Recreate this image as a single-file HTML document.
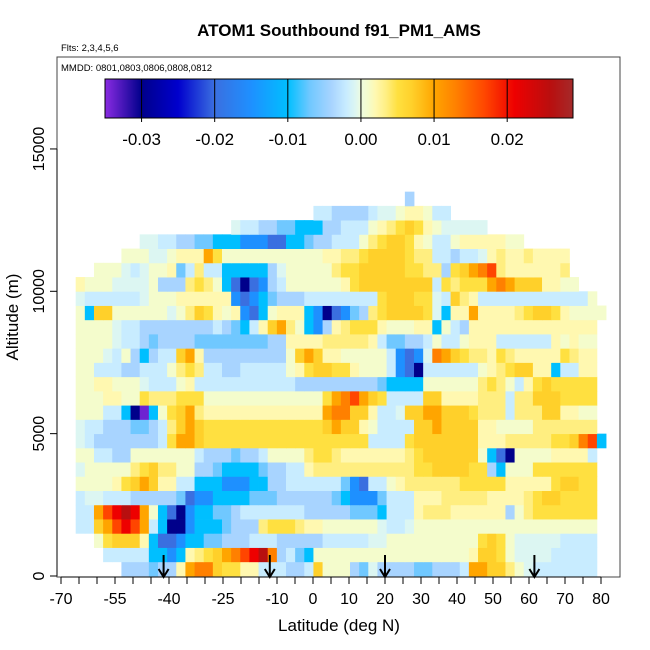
<!DOCTYPE html>
<html><head><meta charset="utf-8"><style>
body{margin:0;background:#fff;}
svg{display:block;font-family:"Liberation Sans",Arial,sans-serif;}
</style></head><body>
<svg id="chart" width="650" height="650" viewBox="0 0 650 650">
<text x="339" y="36" text-anchor="middle" font-size="17" font-weight="bold">ATOM1 Southbound f91_PM1_AMS</text>
<text x="61" y="51" font-size="9.5">Flts: 2,3,4,5,6</text>
<g id="cells"></g>
<g id="arrows"></g>
<rect x="57" y="57" width="563" height="520" fill="none" stroke="#444" stroke-width="1"/>
<text x="61" y="71" font-size="9.5">MMDD: 0801,0803,0806,0808,0812</text>
<g id="cbar"></g>
<g id="xaxis"></g>
<g id="yaxis"></g>
<text x="339" y="631" text-anchor="middle" font-size="17">Latitude (deg N)</text>
<text x="0" y="0" transform="translate(18,317) rotate(-90)" text-anchor="middle" font-size="17">Altitude (m)</text>
</svg>
<script>
// ---- data ----
const latBinStart = -71.0, latBinWidth = 2.54, altBinHeight = 500;
const rowStartCols = [7,5,4,2,2,2,2,2,2,2,2,2,2,2,2,2,2,2,2,2,2,4,7,9,19,28,38];
const rowCodes = [
"FFFEFF267754422GGGFFG5111FEHFFFFEEFFFG665531HGGGGGGG",
"GGGGGDDCD23456789R7FGED11111111111111111255 41HHHHGGGGG",
"145552DBBCDDEEFFFGGGFFFFFGGGGGHH11111111114541HHHHHGGGG",
"GG568986GDNNCDDDEFFF3444322111111HGGH11111111111111111111",
"GG689R961DBNCDDEEFGGGGGGGFFFFFEEEDGGG2333222222F134444444",
"GHHGGGFFFFFEBCCDDDDEEEFFFFFFEDCCCEGGG22233333222234554444",
"11112456522GGDDDCCCDDFFGGGGGGECBGG123333334444422222455 44",
"H111113453311FFEDDDDEFFGG23333333333344555544FD1114444444",
"11GGFF1111111GFFFEFFG111134432222222345555551DBN11112222G",
"HGFFFFFFFG4665444444444444444444GGGG45555555222333334457 8D",
"HGGFFFEEFG35654444444444444565521GGGG556555522111 13333333",
"111GGDNPD145632222222222222677552GGH55665554333G333552211",
"111221143334441111111111111467865 4GGGG552222333G335554444",
"1122111HGGG12GGGGGGGGGGGFFFFFFFFFEDDDD1111113431G24544444",
"11GGGFFGGG1343GGFFGGGGG12455442111GCBNGGGGGG12345522DGG22",
"111HG1FDFGG562FFFFFFFFF15652211111GCBCH7654332432222 24322",
"1111HGGFEFFFFEEEEEEEEFF2222333332GEEFFG1GG1222GGGGGG21211",
"1111HGGFFFFFFFFGFEDG25631DCF234442111 22D1GF22222222222222",
"1D55111111H1354212CBD1222DCNBCEF3455554HD22622223455421111",
"HGGGGGGH111222222CBCDEFFFGGGGGGGG455544HG532GGGGGGGGGGGG1",
"2111HHHH1FFF3431DBNBCFG1111112455555555G43444676555 2211",
"111HGH112EG3GGDDDDDFH11111344555554433F4567832222223",
"111HH122264111111111112233455554 33GGFGGH232232222",
"HHGGFFEEDDDCCCBBDDEFFGGG13455421GG12222211",
"HGGFFEEDDDFFGGG12345421HHHHH",
"GGFFFFGHH1221GG",
"F"
];
const codeKeys   = ["P","N","M","B","C","D","E","F","G","H","0","1","2","3","4","5","6","7","8","9","R"];
const codeValues = [-0.034,-0.03,-0.025,-0.02,-0.015,-0.01,-0.007,-0.004,-0.002,-0.0008,0,0.001,0.002,0.0035,0.005,0.007,0.01,0.013,0.017,0.021,0.026];
const xTickValues = [-70,-65,-60,-55,-50,-45,-40,-35,-30,-25,-20,-15,-10,-5,0,5,10,15,20,25,30,35,40,45,50,55,60,65,70,75,80];
const xTickLabels = ["-70","-55","-40","-25","-10","0","10","20","30","40","50","60","70","80"];
const yTickValues = [0,5000,10000,15000];
const cbarTicks = [-0.03,-0.02,-0.01,0.00,0.01,0.02];
const cbarMin = -0.035, cbarMax = 0.029;
const arrowLats = [-41.5,-12,20,61.5];

// ---- scales ----
const xS = lat => 61 + (lat + 70) * 3.6;
const yS = alt => 576 - alt * 0.02847;
const stops = [[-0.035,"#8a2be2"],[-0.03,"#00008b"],[-0.025,"#0000cd"],[-0.02,"#3a6fe0"],[-0.015,"#1e90ff"],[-0.01,"#00bfff"],[-0.007,"#70c8ff"],[-0.004,"#a8d4ff"],[-0.002,"#c8ecff"],[-0.0008,"#dcf6f2"],[0,"#eefce0"],[0.001,"#f4fccc"],[0.002,"#fff8b0"],[0.0035,"#ffee80"],[0.005,"#ffe040"],[0.007,"#ffd02a"],[0.01,"#ffa500"],[0.013,"#ff8000"],[0.017,"#ff4500"],[0.021,"#ee0000"],[0.026,"#b80f0f"],[0.029,"#a52a2a"]];
function hex(h){return [1,3,5].map(i=>parseInt(h.substr(i,2),16));}
function colorOf(v){
  if(v<=stops[0][0]) return stops[0][1];
  for(let i=1;i<stops.length;i++){
    if(v<=stops[i][0]){
      const t=(v-stops[i-1][0])/(stops[i][0]-stops[i-1][0]);
      const a=hex(stops[i-1][1]), b=hex(stops[i][1]);
      return "rgb("+a.map((c,j)=>Math.round(c+(b[j]-c)*t)).join(",")+")";
    }
  }
  return stops[stops.length-1][1];
}
const NS="http://www.w3.org/2000/svg";
function mk(tag,attrs,parent){const e=document.createElementNS(NS,tag);for(const k in attrs)e.setAttribute(k,attrs[k]);parent.appendChild(e);return e;}

// ---- heatmap cells ----
const cells=document.getElementById("cells");
rowCodes.forEach((raw,k)=>{
  const s=raw.replace(/ /g,"");
  const a0=k*altBinHeight, a1=a0+altBinHeight;
  for(let j=0;j<s.length;j++){
    const idx=codeKeys.indexOf(s[j]); if(idx<0) continue;
    const v=codeValues[idx];
    const col=rowStartCols[k]+j;
    const l0=latBinStart+col*latBinWidth, l1=l0+latBinWidth;
    const r=mk("rect",{x:xS(l0).toFixed(2),y:yS(a1).toFixed(2),width:(xS(l1)-xS(l0)+0.4).toFixed(2),height:(yS(a0)-yS(a1)+0.4).toFixed(2),fill:colorOf(v)},cells);
    
    
  }
});

// ---- arrows ----
const ar=document.getElementById("arrows");
arrowLats.forEach(lat=>{
  const x=xS(lat);
  const g=mk("g",{},ar);
  
  
  mk("line",{x1:x,y1:555,x2:x,y2:576,stroke:"#000","stroke-width":2},g);
  mk("polyline",{points:(x-5)+",569 "+x+",577 "+(x+5)+",569",fill:"none",stroke:"#000","stroke-width":2},g);
});

// ---- colorbar ----
const cb=document.getElementById("cbar");
const cbX0=105,cbX1=573,cbY0=79,cbY1=118;
const cbS=v=>cbX0+(v-cbarMin)/(cbarMax-cbarMin)*(cbX1-cbX0);
for(let px=cbX0;px<cbX1;px++){
  const v=cbarMin+(px+0.5-cbX0)/(cbX1-cbX0)*(cbarMax-cbarMin);
  mk("rect",{x:px,y:cbY0,width:1.2,height:cbY1-cbY0,fill:colorOf(v)},cb);
}
mk("rect",{x:cbX0,y:cbY0,width:cbX1-cbX0,height:cbY1-cbY0,fill:"none",stroke:"#000","stroke-width":1},cb);
cbarTicks.forEach(t=>{
  const x=cbS(t);
  mk("line",{x1:x,y1:cbY0,x2:x,y2:cbY1+4,stroke:"#000","stroke-width":1},cb);
  const tx=mk("text",{x:x,y:145,"text-anchor":"middle","font-size":"17"},cb);
  tx.textContent=t.toFixed(2);
  
  
});

// ---- x axis ----
const xa=document.getElementById("xaxis");
mk("line",{x1:xS(-70),y1:577,x2:xS(80),y2:577,stroke:"#000"},xa);
xTickValues.forEach(t=>{
  mk("line",{x1:xS(t),y1:577,x2:xS(t),y2:584,stroke:"#000"},xa);
});
xTickLabels.forEach(lbl=>{
  const t=mk("text",{x:xS(+lbl),y:604,"text-anchor":"middle","font-size":"16"},xa);
  t.textContent=lbl;
  
  
});

// ---- y axis ----
const ya=document.getElementById("yaxis");
mk("line",{x1:57,y1:yS(0),x2:57,y2:yS(15000),stroke:"#000"},ya);
yTickValues.forEach(v=>{
  mk("line",{x1:50,y1:yS(v),x2:57,y2:yS(v),stroke:"#000"},ya);
  const t=mk("text",{x:0,y:0,transform:"translate(44,"+yS(v)+") rotate(-90)","text-anchor":"middle","font-size":"16"},ya);
  t.textContent=String(v);
  
  
});
</script>
</body></html>
